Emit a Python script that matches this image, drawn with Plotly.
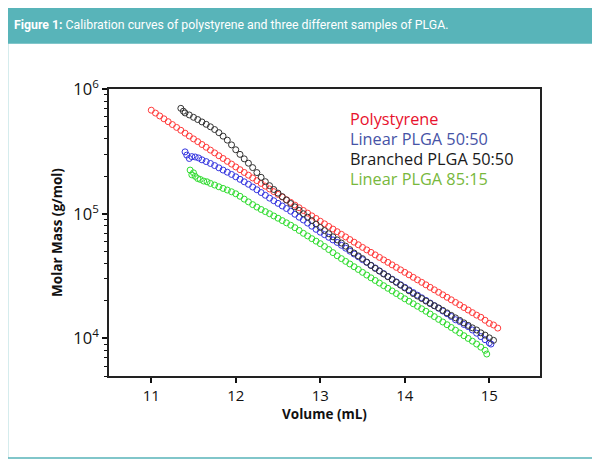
import numpy as np
import plotly.graph_objects as go

# calibration data: elution volume (mL) and log10 molar mass (g/mol)
volume_ps = [11.00, 11.05, 11.10, 11.15, 11.20, 11.25, 11.30, 11.35, 11.40, 11.45,
             11.50, 11.55, 11.60, 11.65, 11.70, 11.75, 11.80, 11.85, 11.90, 11.95,
             12.00, 12.05, 12.10, 12.15, 12.20, 12.25, 12.30, 12.35, 12.40, 12.45,
             12.50, 12.55, 12.60, 12.65, 12.70, 12.75, 12.80, 12.85, 12.90, 12.95,
             13.00, 13.05, 13.10, 13.15, 13.20, 13.25, 13.30, 13.35, 13.40, 13.45,
             13.50, 13.55, 13.60, 13.65, 13.70, 13.75, 13.80, 13.85, 13.90, 13.95,
             14.00, 14.05, 14.10, 14.15, 14.20, 14.25, 14.30, 14.35, 14.40, 14.45,
             14.50, 14.55, 14.60, 14.65, 14.70, 14.75, 14.80, 14.85, 14.90, 14.95,
             15.00, 15.05, 15.10]
logmass_ps = [5.830, 5.807, 5.784, 5.761, 5.738, 5.715, 5.692, 5.669, 5.646, 5.623,
              5.600, 5.578, 5.555, 5.533, 5.510, 5.488, 5.465, 5.443, 5.420, 5.398,
              5.375, 5.353, 5.331, 5.309, 5.287, 5.265, 5.243, 5.221, 5.199, 5.177,
              5.155, 5.134, 5.112, 5.091, 5.069, 5.048, 5.026, 5.005, 4.983, 4.962,
              4.940, 4.919, 4.898, 4.877, 4.856, 4.835, 4.814, 4.793, 4.772, 4.751,
              4.730, 4.710, 4.690, 4.670, 4.650, 4.630, 4.610, 4.590, 4.570, 4.550,
              4.530, 4.510, 4.490, 4.470, 4.450, 4.430, 4.410, 4.390, 4.370, 4.350,
              4.330, 4.310, 4.289, 4.269, 4.248, 4.228, 4.207, 4.187, 4.170, 4.146,
              4.121, 4.108, 4.083]

volume_lin5050 = [11.40, 11.42, 11.45, 11.48, 11.52, 11.56, 11.60, 11.65, 11.70, 11.75,
                  11.80, 11.85, 11.90, 11.95, 12.00, 12.05, 12.10, 12.15, 12.20, 12.25,
                  12.30, 12.35, 12.40, 12.45, 12.50, 12.55, 12.60, 12.65, 12.70, 12.75,
                  12.80, 12.85, 12.90, 12.95, 13.00, 13.05, 13.10, 13.15, 13.20, 13.25,
                  13.30, 13.35, 13.40, 13.45, 13.50, 13.55, 13.60, 13.65, 13.70, 13.75,
                  13.80, 13.85, 13.90, 13.95, 14.00, 14.05, 14.10, 14.15, 14.20, 14.25,
                  14.30, 14.35, 14.40, 14.45, 14.50, 14.55, 14.60, 14.65, 14.70, 14.75,
                  14.80, 14.85, 14.90, 14.95, 15.00, 15.02]
logmass_lin5050 = [5.496, 5.470, 5.443, 5.458, 5.455, 5.447, 5.432, 5.418, 5.403, 5.386,
                   5.368, 5.350, 5.333, 5.315, 5.296, 5.276, 5.256, 5.236, 5.214, 5.192,
                   5.170, 5.148, 5.125, 5.104, 5.083, 5.062, 5.042, 5.020, 4.996, 4.972,
                   4.950, 4.925, 4.900, 4.875, 4.852, 4.832, 4.811, 4.790, 4.770, 4.747,
                   4.724, 4.700, 4.677, 4.655, 4.632, 4.610, 4.587, 4.565, 4.542, 4.520,
                   4.497, 4.475, 4.453, 4.431, 4.410, 4.389, 4.368, 4.347, 4.326, 4.305,
                   4.284, 4.263, 4.242, 4.220, 4.198, 4.176, 4.150, 4.135, 4.112, 4.095,
                   4.068, 4.042, 4.015, 3.990, 3.965, 3.955]

volume_br5050 = [11.35, 11.38, 11.40, 11.45, 11.50, 11.55, 11.60, 11.65, 11.70, 11.75,
                 11.80, 11.85, 11.90, 11.95, 12.00, 12.05, 12.10, 12.15, 12.20, 12.25,
                 12.30, 12.35, 12.40, 12.45, 12.50, 12.55, 12.60, 12.65, 12.70, 12.75,
                 12.80, 12.85, 12.90, 12.95, 13.00, 13.05, 13.10, 13.15, 13.20, 13.25,
                 13.30, 13.35, 13.40, 13.45, 13.50, 13.55, 13.60, 13.65, 13.70, 13.75,
                 13.80, 13.85, 13.90, 13.95, 14.00, 14.05, 14.10, 14.15, 14.20, 14.25,
                 14.30, 14.35, 14.40, 14.45, 14.50, 14.55, 14.60, 14.65, 14.70, 14.75,
                 14.80, 14.85, 14.90, 14.95, 15.00, 15.05]
logmass_br5050 = [5.845, 5.822, 5.808, 5.792, 5.773, 5.755, 5.736, 5.717, 5.697, 5.675,
                  5.650, 5.622, 5.590, 5.552, 5.513, 5.476, 5.440, 5.405, 5.370, 5.330,
                  5.292, 5.257, 5.225, 5.194, 5.165, 5.137, 5.110, 5.082, 5.055, 5.027,
                  5.000, 4.972, 4.945, 4.917, 4.890, 4.865, 4.840, 4.815, 4.790, 4.765,
                  4.740, 4.712, 4.685, 4.662, 4.640, 4.612, 4.585, 4.562, 4.540, 4.517,
                  4.495, 4.472, 4.450, 4.427, 4.405, 4.382, 4.360, 4.340, 4.320, 4.300,
                  4.280, 4.262, 4.245, 4.225, 4.205, 4.185, 4.165, 4.145, 4.125, 4.105,
                  4.085, 4.068, 4.045, 4.027, 4.005, 3.985]

volume_lin8515 = [11.46, 11.48, 11.50, 11.52, 11.55, 11.58, 11.62, 11.66, 11.70, 11.75,
                  11.80, 11.85, 11.90, 11.95, 12.00, 12.05, 12.10, 12.15, 12.20, 12.25,
                  12.30, 12.35, 12.40, 12.45, 12.50, 12.55, 12.60, 12.65, 12.70, 12.75,
                  12.80, 12.85, 12.90, 12.95, 13.00, 13.05, 13.10, 13.15, 13.20, 13.25,
                  13.30, 13.35, 13.40, 13.45, 13.50, 13.55, 13.60, 13.65, 13.70, 13.75,
                  13.80, 13.85, 13.90, 13.95, 14.00, 14.05, 14.10, 14.15, 14.20, 14.25,
                  14.30, 14.35, 14.40, 14.45, 14.50, 14.55, 14.60, 14.65, 14.70, 14.75,
                  14.80, 14.85, 14.90, 14.95, 14.97]
logmass_lin8515 = [5.350, 5.312, 5.328, 5.300, 5.282, 5.275, 5.262, 5.256, 5.243, 5.230,
                   5.216, 5.203, 5.190, 5.176, 5.160, 5.140, 5.117, 5.095, 5.073, 5.053,
                   5.034, 5.017, 5.000, 4.982, 4.964, 4.945, 4.927, 4.908, 4.888, 4.866,
                   4.843, 4.822, 4.800, 4.780, 4.760, 4.737, 4.713, 4.688, 4.663, 4.640,
                   4.618, 4.597, 4.575, 4.553, 4.530, 4.508, 4.486, 4.465, 4.444, 4.423,
                   4.402, 4.381, 4.360, 4.339, 4.318, 4.298, 4.278, 4.258, 4.238, 4.218,
                   4.196, 4.175, 4.153, 4.132, 4.110, 4.088, 4.066, 4.044, 4.022, 4.000,
                   3.978, 3.955, 3.930, 3.905, 3.875]

series_names = ["Polystyrene", "Linear PLGA 50:50", "Branched PLGA 50:50", "Linear PLGA 85:15"]
marker_colors = ["#ff3b3b", "#3535e0", "#333333", "#2fdc2f"]
label_colors = ["#e8112d", "#4653a6", "#1a1a1a", "#78b83c"]

y_major = [1e4, 1e5, 1e6]
y_major_text = ["10<sup>4</sup>", "10<sup>5</sup>", "10<sup>6</sup>"]
y_minor = [m * 10**e for e in (3, 4, 5) for m in range(2, 10) if 5000 <= m * 10**e < 1e6]

W, H = 600, 465
OFF = 8  # page body margin, the figure is drawn 8px in from the window corner
L, R, T, B = 109 - OFF, 540 - OFF, 89 - OFF, 376 - OFF   # plot area in pixels
teal = "#58b4b9"


def px(x):
    return (x - OFF - L) / (R - L)


def py(y):
    return (B - (y - OFF)) / (B - T)


fig = go.Figure()
vols = [volume_ps, volume_lin5050, volume_br5050, volume_lin8515]
logs = [logmass_ps, logmass_lin5050, logmass_br5050, logmass_lin8515]
for name, v, lm, c in zip(series_names, vols, logs, marker_colors):
    fig.add_trace(go.Scatter(
        x=v, y=10 ** np.array(lm), mode="markers", name=name,
        marker=dict(symbol="circle-open", size=6, color=c, line=dict(width=1, color=c)),
    ))

# frame + header band
fig.add_shape(type="rect", xref="paper", yref="paper",
              x0=px(7.5), x1=px(594), y0=py(458), y1=py(43),
              line=dict(color=teal, width=1.5), fillcolor="rgba(0,0,0,0)", layer="below")
fig.add_shape(type="rect", xref="paper", yref="paper",
              x0=px(7), x1=px(594.7), y0=py(43), y1=py(7),
              line=dict(width=0), fillcolor=teal, layer="below")
fig.add_annotation(xref="paper", yref="paper", x=px(12), y=py(25), xanchor="left", yanchor="middle",
                   text="<b>Figure 1:</b> Calibration curves of polystyrene and three different samples of PLGA.",
                   showarrow=False,
                   font=dict(family="Roboto", size=12.3, color="white"))

# legend written as coloured text
for i, (name, c) in enumerate(zip(series_names, label_colors)):
    fig.add_annotation(xref="paper", yref="paper", x=px(348), y=py(119 + i * 20),
                       xanchor="left", yanchor="middle", text=name, showarrow=False,
                       font=dict(family="Open Sans", size=16.3, color=c))

fig.update_xaxes(range=[10.5, 15.6], tickvals=[11, 12, 13, 14, 15],
                 ticks="outside", ticklen=5, tickwidth=1.5, tickcolor="#111",
                 showline=True, linecolor="#222", linewidth=1.8, mirror=True,
                 showgrid=False, zeroline=False,
                 tickfont=dict(family="Open Sans", size=15, color="#111"),
                 title=dict(text="<b>Volume (mL)</b>", standoff=4,
                            font=dict(family="Open Sans", size=13.5, color="#111")))
fig.update_yaxes(type="log", range=[np.log10(5000), 6], tickvals=y_major, ticktext=y_major_text,
                 ticks="outside", ticklen=5, tickwidth=1.5, tickcolor="#111",
                 minor=dict(tickvals=y_minor, ticks="outside", ticklen=3, tickwidth=1.2, tickcolor="#111"),
                 showline=True, linecolor="#222", linewidth=1.8, mirror=True,
                 showgrid=False, zeroline=False,
                 tickfont=dict(family="Open Sans", size=16.5, color="#111"),
                 title=dict(text="<b>Molar Mass (g/mol)</b>", standoff=8,
                            font=dict(family="Open Sans", size=13.5, color="#111")))

fig.update_layout(width=W, height=H, margin=dict(l=L, r=W - R, t=T, b=H - B),
                  paper_bgcolor="white", plot_bgcolor="white", showlegend=False)

fig.write_html("out.html")
